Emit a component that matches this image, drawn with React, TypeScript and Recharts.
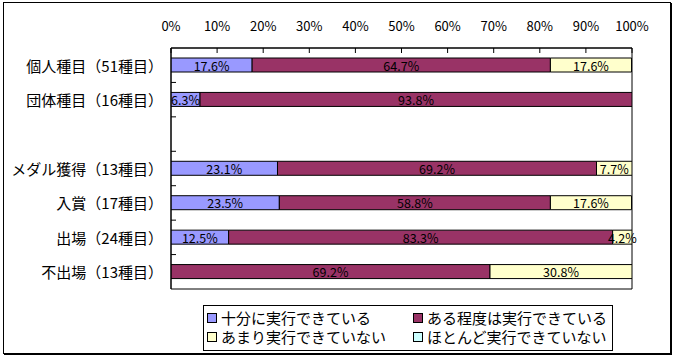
import React from 'react';
import { BarChart, Bar, XAxis, YAxis, LabelList, ReferenceArea } from 'recharts';

const categories = ['個人種目（51種目）', '団体種目（16種目）', ' ', 'メダル獲得（13種目）', '入賞（17種目）', '出場（24種目）', '不出場（13種目）'];
const seriesNames = ['十分に実行できている', 'ある程度は実行できている', 'あまり実行できていない', 'ほとんど実行できていない'];
const fully = [17.6, 6.3, null, 23.1, 23.5, 12.5, 0];
const somewhat = [64.7, 93.8, null, 69.2, 58.8, 83.3, 69.2];
const little = [17.6, 0, null, 7.7, 17.6, 4.2, 30.8];
const hardly = [0, 0, null, 0, 0, 0, 0];
const xTicks = [0, 10, 20, 30, 40, 50, 60, 70, 80, 90, 100];
const colors = ['#9999FF', '#993366', '#FFFFCC', '#CCFFFF'];

const seriesValues = [fully, somewhat, little, hardly];
const keys = ['s0', 's1', 's2', 's3'];
const data = categories.map((c, i) => {
  const row: any = { name: c };
  keys.forEach((k, j) => { row[k] = seriesValues[j][i]; });
  return row;
});

const W = 674, H = 358;
const PL = 171, PT = 48, PR = 632, PB = 289;
const FONT = '"Noto Sans CJK JP", "Noto Sans", sans-serif';
const pitch = (PB - PT) / categories.length;

const XTick = (props: any) => {
  const { x, payload } = props;
  return (
    <g>
      <text x={x} y={25} textAnchor="middle" dominantBaseline="central" fontSize={13} fontFamily={FONT} fill="#000">{payload.value}%</text>
      <line x1={x} x2={x} y1={PT} y2={PT + 5} stroke="#000" />
    </g>
  );
};

const YTick = (props: any) => {
  const { y, payload, index } = props;
  return (
    <g>
      <text x={163} y={y} textAnchor="end" dominantBaseline="central" fontSize={15} fontFamily={FONT} fill="#000">{payload.value}</text>
      {index > 0 && <line x1={PL} x2={PL + 5} y1={y - pitch / 2} y2={y - pitch / 2} stroke="#000" />}
    </g>
  );
};

const renderLabel = (props: any) => {
  const { x, y, width, height, value } = props;
  if (value === null || value === undefined || value === 0) return null;
  return (
    <text x={x + width / 2} y={y + height / 2} textAnchor="middle" dominantBaseline="central" fontSize={12.5} fontFamily={FONT} fill="#000">
      {Number(value).toFixed(1)}%
    </text>
  );
};

const LegendBox = () => (
  <div style={{ position: 'absolute', left: 203, top: 305, border: '1px solid #000', width: 410, height: 46, boxSizing: 'border-box', background: '#fff', fontFamily: FONT, fontSize: 15 }}>
    {seriesNames.map((n, i) => {
      const col = i % 2;
      const row = Math.floor(i / 2);
      return (
        <div key={n} style={{ position: 'absolute', left: col === 0 ? 3 : 209, top: row === 0 ? 2 : 21, display: 'flex', alignItems: 'center', height: 20, whiteSpace: 'nowrap', lineHeight: '20px' }}>
          <span style={{ display: 'inline-block', width: 8, height: 8, border: '1px solid #000', background: colors[i], marginRight: 4 }} />
          <span>{n}</span>
        </div>
      );
    })}
  </div>
);

export default function App() {
  return (
    <div style={{ position: 'absolute', left: 0, top: 0, width: W, height: H, background: '#fff' }}>
      <div style={{ position: 'absolute', left: 3, top: 2, width: 666, height: 350, border: '1px solid #000', boxShadow: '1px 1px 0 #000' }} />
      <div style={{ position: 'absolute', left: 0, top: 0 }}>
        <BarChart width={W} height={H} data={data} layout="vertical" margin={{ top: 0, left: 0, right: W - PR, bottom: H - PB }} barSize={14}>
          <XAxis type="number" orientation="top" domain={[0, 100]} ticks={xTicks} allowDataOverflow height={PT} tick={<XTick />} tickLine={false} axisLine={{ stroke: '#000' }} interval={0} />
          <YAxis type="category" dataKey="name" width={PL} tick={<YTick />} tickLine={false} axisLine={{ stroke: '#000' }} interval={0} />
          <ReferenceArea x1={0} x2={100} fill="none" stroke="#000" strokeOpacity={1} ifOverflow="extendDomain" />
          {keys.map((k, j) => (
            <Bar key={k} dataKey={k} name={seriesNames[j]} stackId="a" fill={colors[j]} stroke="#000" strokeWidth={1} isAnimationActive={false}>
              <LabelList dataKey={k} content={renderLabel} />
            </Bar>
          ))}
        </BarChart>
      </div>
      <LegendBox />
    </div>
  );
}
